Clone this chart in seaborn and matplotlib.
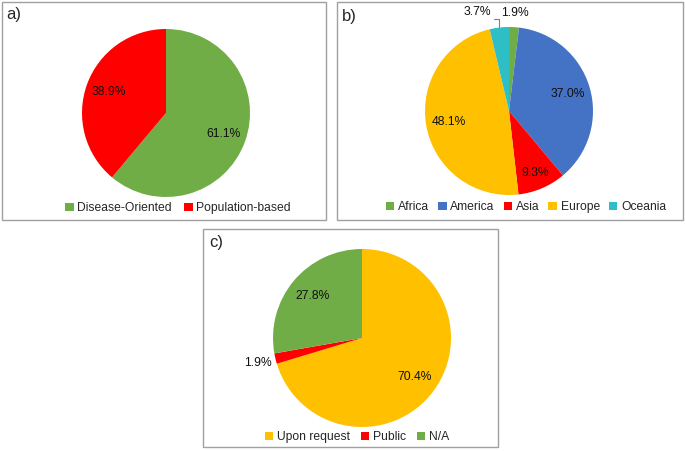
import matplotlib.pyplot as plt
import numpy as np
import seaborn as sns
from matplotlib.patches import Rectangle

# data
a_labels = ['Disease-Oriented', 'Population-based']
a_values = [61.1, 38.9]

b_labels = ['Africa', 'America', 'Asia', 'Europe', 'Oceania']
b_values = [1.9, 37.0, 9.3, 48.1, 3.7]

c_labels = ['Upon request', 'Public', 'N/A']
c_values = [70.4, 1.9, 27.8]

GREEN = '#70AD47'
RED = '#FF0000'
BLUE = '#4472C4'
YELLOW = '#FFC000'
TEAL = '#2EBFC6'

sns.set_theme(style='white')
plt.rcParams['font.family'] = ['Liberation Sans', 'DejaVu Sans']

W, H = 685, 451
fig = plt.figure(figsize=(W / 100, H / 100), dpi=100)


def box(x0, y0, x1, y1):
    # panel frame, given in pixels from the top left
    fig.patches.append(Rectangle((x0 / W, 1 - y1 / H), (x1 - x0) / W, (y1 - y0) / H,
                                 transform=fig.transFigure, fill=False,
                                 edgecolor='#A0A0A0', linewidth=1))


def pie_axes(cx, cy, r):
    ax = fig.add_axes([(cx - r) / W, 1 - (cy + r) / H, 2 * r / W, 2 * r / H])
    return ax


def draw_pie(ax, values, colors, dist):
    wedges, _ = ax.pie(values, colors=colors, startangle=90, counterclock=False,
                       wedgeprops=dict(linewidth=0))
    ax.set_xlim(-1, 1)
    ax.set_ylim(-1, 1)
    ax.set_aspect('equal')
    ax.axis('off')
    texts = []
    for w, v, d in zip(wedges, values, dist):
        ang = np.deg2rad((w.theta1 + w.theta2) / 2)
        t = ax.text(d * np.cos(ang), d * np.sin(ang), f'{v:.1f}%',
                    ha='center', va='center', fontsize=8.7, color='#111111')
        texts.append(t)
    return wedges, texts


def legend(wedges, labels, x, y, spacing=1.2):
    fig.legend(wedges, labels, loc='center', bbox_to_anchor=(x / W, 1 - y / H),
               ncol=len(labels), frameon=False, fontsize=8.7,
               handlelength=0.7, handleheight=0.7, handletextpad=0.3,
               columnspacing=spacing, borderpad=0)


# a)
box(2, 2, 326, 220)
ax = pie_axes(166, 113, 84)
w, _ = draw_pie(ax, a_values, [GREEN, RED], [0.73, 0.73])
legend(w, a_labels, 178, 208, 1.0)
fig.text(6 / W, 1 - 15 / H, 'a)', fontsize=12, va='center', ha='left')

# b)
box(337, 2, 683, 220)
ax = pie_axes(509, 111, 84)
w, t = draw_pie(ax, b_values, [GREEN, BLUE, RED, YELLOW, TEAL],
                [1.17, 0.73, 0.8, 0.73, 1.17])
# Oceania label pushed left with a leader line
ang = np.deg2rad((w[4].theta1 + w[4].theta2) / 2)
lx, ly = np.cos(ang), np.sin(ang)
t[4].set_position((lx * 1.17 - 0.24, ly * 1.17 + 0.02))
ax.plot([lx * 1.01, lx * 1.01, lx * 1.01 - 0.06], [ly * 1.01, ly * 1.1, ly * 1.1],
        color='#808080', linewidth=0.8, clip_on=False)
legend(w, b_labels, 526, 207, 0.75)
fig.text(342 / W, 1 - 16 / H, 'b)', fontsize=12, va='center', ha='left')

# c)
box(203, 229, 498, 447)
ax = pie_axes(362, 338, 89)
w, t = draw_pie(ax, c_values, [YELLOW, RED, GREEN], [0.73, 1.2, 0.73])
legend(w, c_labels, 357, 437, 0.9)
fig.text(209 / W, 1 - 243 / H, 'c)', fontsize=12, va='center', ha='left')

fig.savefig('out.png', dpi=100, facecolor='white')
